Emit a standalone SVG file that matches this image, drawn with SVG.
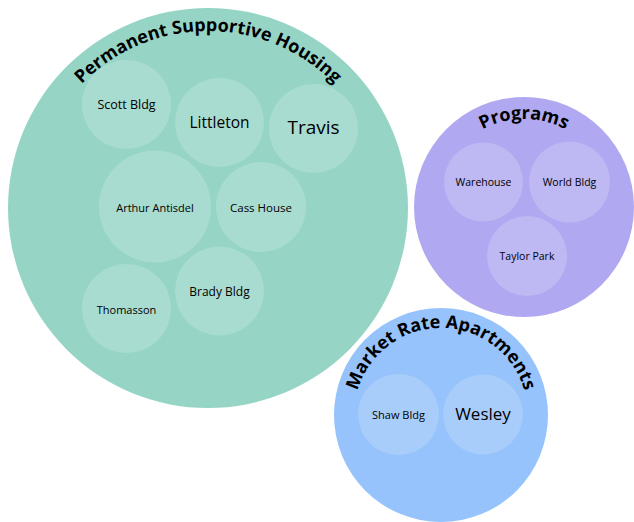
<svg xmlns="http://www.w3.org/2000/svg" width="634" height="522" viewBox="0 0 634 522">
<style>
.inner{fill:#ffffff;fill-opacity:0.18}
.lbl{font-family:"Open Sans","Noto Sans",sans-serif;font-weight:500;fill:#000;text-anchor:middle;dominant-baseline:central}
.ttl{font-family:"Open Sans","Noto Sans",sans-serif;font-weight:bold;font-size:18px;fill:#000;text-anchor:middle}
</style>
<defs>
<path id="arcPSH" d="M31,208 A177,177 0 0 1 385,208"/>
<path id="arcPRG" d="M436,207 A88,88 0 0 1 612,207"/>
<path id="arcMRA" d="M354,415 A87,87 0 0 1 528,415"/>
</defs>
<rect width="634" height="522" fill="#ffffff"/>
<g id="psh">
<circle cx="208" cy="208" r="200" fill="#96d5c6"/>
<text class="ttl"><textPath href="#arcPSH" startOffset="50%">Permanent Supportive Housing</textPath></text>
</g>
<g id="programs">
<circle cx="524" cy="207" r="110" fill="#b0a9f1"/>
<text class="ttl"><textPath href="#arcPRG" startOffset="50%">Programs</textPath></text>
</g>
<g id="market">
<circle cx="441" cy="415" r="107" fill="#96c3fb"/>
<text class="ttl"><textPath href="#arcMRA" startOffset="50%">Market Rate Apartments</textPath></text>
</g>
<g id="scott"><circle class="inner" cx="126.5" cy="104.5" r="44.5"/><text class="lbl" x="126.5" y="104" font-size="12.5">Scott Bldg</text></g>
<g id="littleton"><circle class="inner" cx="219.5" cy="122.5" r="44.5"/><text class="lbl" x="219.5" y="122" font-size="15.5">Littleton</text></g>
<g id="travis"><circle class="inner" cx="313.5" cy="128.5" r="44.5"/><text class="lbl" x="313.5" y="127" font-size="19">Travis</text></g>
<g id="arthur"><circle class="inner" cx="155" cy="206.5" r="56"/><text class="lbl" x="155" y="207" font-size="11">Arthur Antisdel</text></g>
<g id="cass"><circle class="inner" cx="261" cy="207" r="45"/><text class="lbl" x="261" y="207" font-size="11.5">Cass House</text></g>
<g id="brady"><circle class="inner" cx="219.5" cy="291" r="44.5"/><text class="lbl" x="219.5" y="291" font-size="12">Brady Bldg</text></g>
<g id="thomasson"><circle class="inner" cx="126.5" cy="308.5" r="44.5"/><text class="lbl" x="126.5" y="309" font-size="11">Thomasson</text></g>
<g id="warehouse"><circle class="inner" cx="483.5" cy="182" r="39.5"/><text class="lbl" x="483.5" y="182" font-size="10.5">Warehouse</text></g>
<g id="world"><circle class="inner" cx="569.5" cy="182" r="40.5"/><text class="lbl" x="569.5" y="182" font-size="10.5">World Bldg</text></g>
<g id="taylor"><circle class="inner" cx="527" cy="256" r="40"/><text class="lbl" x="527" y="256" font-size="10.5">Taylor Park</text></g>
<g id="shaw"><circle class="inner" cx="398.5" cy="414.5" r="40.5"/><text class="lbl" x="398.5" y="414" font-size="11">Shaw Bldg</text></g>
<g id="wesley"><circle class="inner" cx="483" cy="414.5" r="40"/><text class="lbl" x="483" y="413" font-size="17">Wesley</text></g>
<g id="connectors"></g>
</svg>
